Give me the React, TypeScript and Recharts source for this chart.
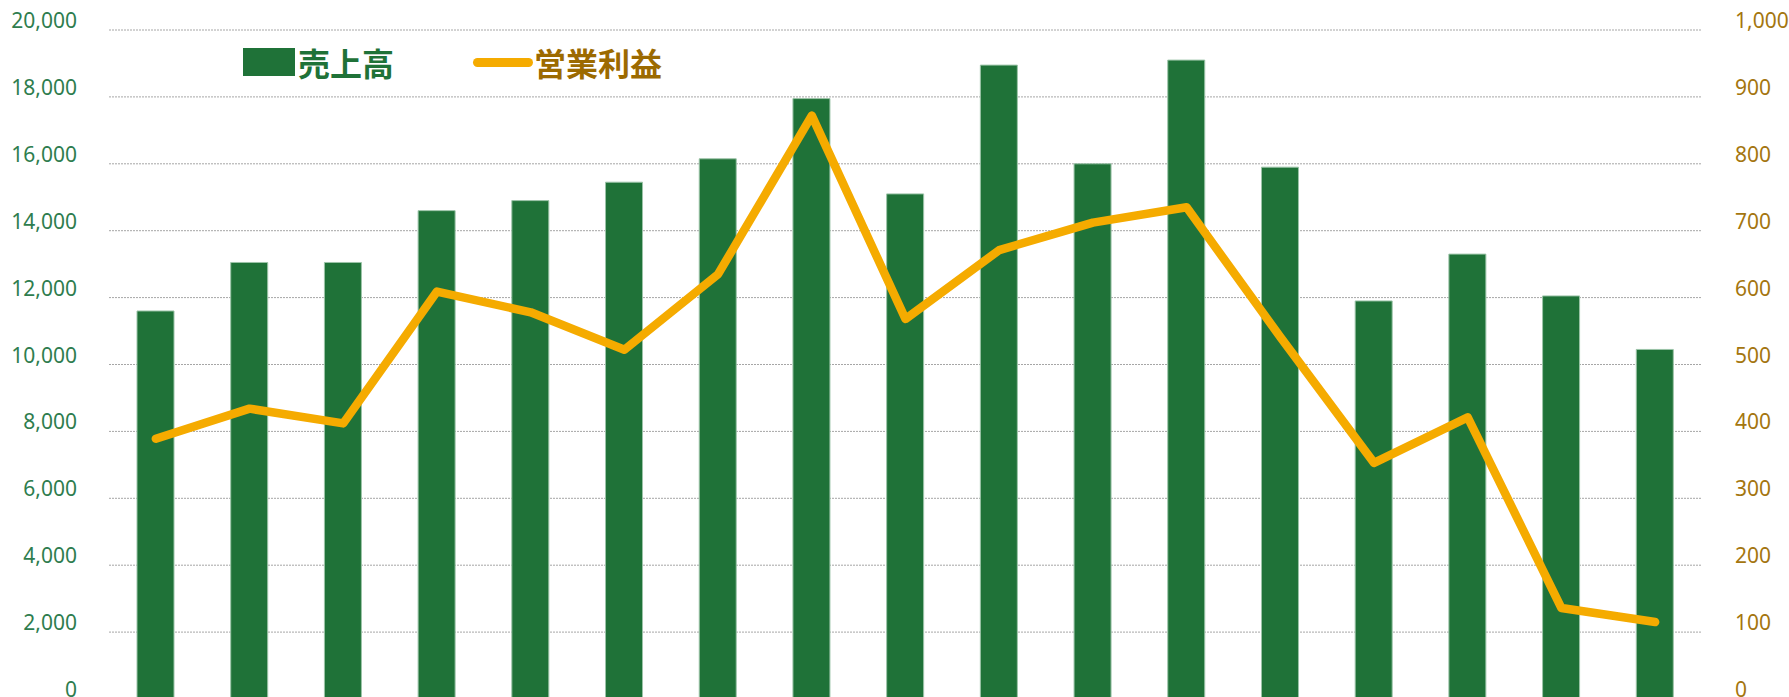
import React from "react";
import {
  ComposedChart,
  Bar,
  Line,
  XAxis,
  YAxis,
  CartesianGrid,
  Legend,
} from "recharts";

// 期別の売上高（左軸）と営業利益（右軸）
const periods = [
  "1", "2", "3", "4", "5", "6", "7", "8", "9",
  "10", "11", "12", "13", "14", "15", "16", "17",
];
const sales = [
  11600, 13050, 13050, 14600, 14900, 15450, 16150, 17950, 15100,
  18950, 16000, 19100, 15900, 11900, 13300, 12050, 10450,
];
const operatingProfit = [
  389, 434, 412, 609, 578, 522, 635, 872, 568,
  671, 712, 735, 541, 353, 421, 136, 115,
];
const leftTicks = [0, 2000, 4000, 6000, 8000, 10000, 12000, 14000, 16000, 18000, 20000];
const rightTicks = [0, 100, 200, 300, 400, 500, 600, 700, 800, 900, 1000];

const GREEN = "#1F7238";
const ORANGE = "#F5AB00";
const LEFT_TEXT = "#2E7D4E";
const RIGHT_TEXT = "#A4760F";
const LEGEND_GOLD = "#9C6A00";

const data = periods.map((p, i) => ({
  name: p,
  sales: sales[i],
  profit: operatingProfit[i],
}));

const AxisTick: React.FC<any> = ({ x, y, payload, anchor, color }) => (
  <text
    x={x}
    y={y - 10}
    textAnchor={anchor}
    dominantBaseline="central"
    fill={color}
    fontSize={21}
    fontFamily="'Noto Sans', 'Open Sans', sans-serif"
  >
    {Number(payload.value).toLocaleString("en-US")}
  </text>
);

const legendText: React.CSSProperties = {
  position: "absolute",
  top: 62,
  transform: "translateY(-50%)",
  fontSize: 32,
  fontWeight: 700,
  lineHeight: 1,
  fontFamily: "'Noto Sans CJK JP', sans-serif",
  whiteSpace: "nowrap",
};

const ChartLegend = () => (
  <div style={{ position: "relative", width: 700, height: 100 }}>
    <div
      style={{
        position: "absolute",
        left: 243,
        top: 48,
        width: 52,
        height: 28,
        background: GREEN,
      }}
    />
    <div style={{ ...legendText, left: 298, color: GREEN }}>売上高</div>
    <div
      style={{
        position: "absolute",
        left: 473,
        top: 58,
        width: 60,
        height: 9,
        borderRadius: 4.5,
        background: ORANGE,
      }}
    />
    <div style={{ ...legendText, left: 534, color: LEGEND_GOLD }}>営業利益</div>
  </div>
);

export default function App() {
  return (
    <div style={{ position: "absolute", left: 0, top: 0, background: "#fff" }}>
      <ComposedChart
        width={1789}
        height={720}
        data={data}
        margin={{ top: 30, right: 0, bottom: 21, left: 0 }}
      >
        <CartesianGrid
          vertical={false}
          stroke="#a6a6a6"
          strokeDasharray="2 1"
          yAxisId="left"
        />
        <XAxis dataKey="name" hide />
        <YAxis
          yAxisId="left"
          orientation="left"
          width={109}
          domain={[0, 20000]}
          ticks={leftTicks}
          axisLine={false}
          tickLine={false}
          tickSize={0}
          tickMargin={32}
          interval={0}
          tick={(props: any) => (
            <AxisTick {...props} anchor="end" color={LEFT_TEXT} />
          )}
        />
        <YAxis
          yAxisId="right"
          orientation="right"
          width={87}
          domain={[0, 1000]}
          ticks={rightTicks}
          axisLine={false}
          tickLine={false}
          tickSize={0}
          tickMargin={33}
          interval={0}
          tick={(props: any) => (
            <AxisTick {...props} anchor="start" color={RIGHT_TEXT} />
          )}
        />
        <Legend
          verticalAlign="middle"
          content={() => <ChartLegend />}
          wrapperStyle={{ top: 0, left: 0, width: 700, height: 100 }}
        />
        <Bar
          yAxisId="left"
          dataKey="sales"
          name="売上高"
          fill={GREEN}
          stroke="#9cc4a8"
          strokeWidth={1}
          barSize={37}
          isAnimationActive={false}
        />
        <Line
          yAxisId="right"
          dataKey="profit"
          name="営業利益"
          type="linear"
          stroke={ORANGE}
          strokeWidth={8.5}
          strokeLinecap="round"
          strokeLinejoin="round"
          dot={false}
          activeDot={false}
          isAnimationActive={false}
        />
      </ComposedChart>
    </div>
  );
}
